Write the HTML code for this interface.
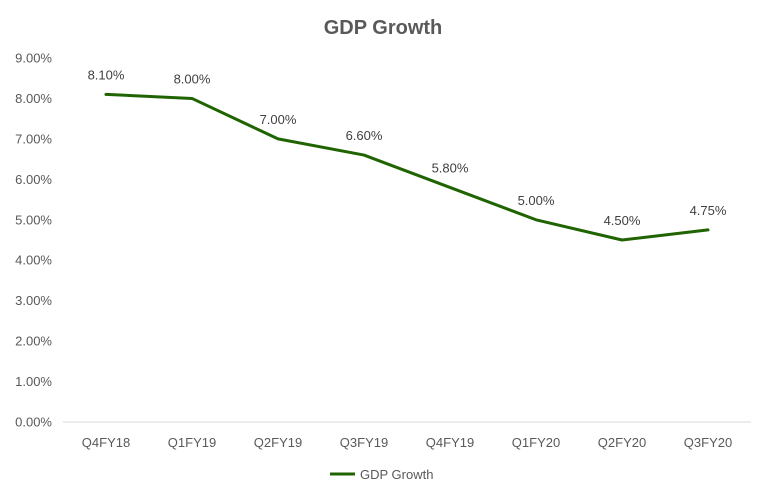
<!DOCTYPE html>
<html><head><meta charset="utf-8"><style>
body{margin:0;background:#fff;}
svg text{font-family:"Liberation Sans",sans-serif;}
</style></head><body>
<svg id="chart" width="766" height="496" xmlns="http://www.w3.org/2000/svg">
<rect width="766" height="496" fill="#fff"/>
<text x="383" y="34" text-anchor="middle" font-size="20" font-weight="bold" fill="#595959">GDP Growth</text>
<g id="yaxis"></g>
<g id="xaxis"></g>
<g id="series"></g>
<g>
<line x1="330" y1="474" x2="355" y2="474" stroke="#1f6400" stroke-width="3"/>
<text x="360" y="479" font-size="13" fill="#595959">GDP Growth</text>
</g>
</svg>
<script>
const categories=["Q4FY18","Q1FY19","Q2FY19","Q3FY19","Q4FY19","Q1FY20","Q2FY20","Q3FY20"];
const values=[8.10,8.00,7.00,6.60,5.80,5.00,4.50,4.75];
const valueLabels=["8.10%","8.00%","7.00%","6.60%","5.80%","5.00%","4.50%","4.75%"];
const yTicks=[0,1,2,3,4,5,6,7,8,9];
const NS="http://www.w3.org/2000/svg";
const plotL=63,plotR=751,y0=422,y9=58,yMax=9;
const band=(plotR-plotL)/categories.length;
function xs(i){return plotL+band*(i+0.5);}
function ys(v){return y0-(v/yMax)*(y0-y9);}
function mk(tag,attrs,parent,txt){const e=document.createElementNS(NS,tag);for(const k in attrs)e.setAttribute(k,attrs[k]);if(txt!==undefined)e.textContent=txt;parent.appendChild(e);return e;}
const ya=document.getElementById('yaxis'),xa=document.getElementById('xaxis'),sg=document.getElementById('series');
yTicks.forEach(t=>{
  const e=mk('text',{x:52,y:ys(t)+4.5,'text-anchor':'end','font-size':13,fill:'#595959'},ya,t.toFixed(2)+'%');
  
  
});
const ax=mk('line',{x1:plotL,y1:y0,x2:plotR,y2:y0,stroke:'#d9d9d9','stroke-width':1},xa);


categories.forEach((c,i)=>{
  const e=mk('text',{x:xs(i),y:447,'text-anchor':'middle','font-size':13,fill:'#595959'},xa,c);
  
  
});
const pts=values.map((v,i)=>xs(i)+','+ys(v)).join(' ');
const pl=mk('polyline',{points:pts,fill:'none',stroke:'#1f6400','stroke-width':3,'stroke-linejoin':'round','stroke-linecap':'round'},sg);


values.forEach((v,i)=>{
  const e=mk('text',{x:xs(i),y:ys(v)-15,'text-anchor':'middle','font-size':13,fill:'#404040'},sg,valueLabels[i]);
  
  
});
</script>
</body></html>
